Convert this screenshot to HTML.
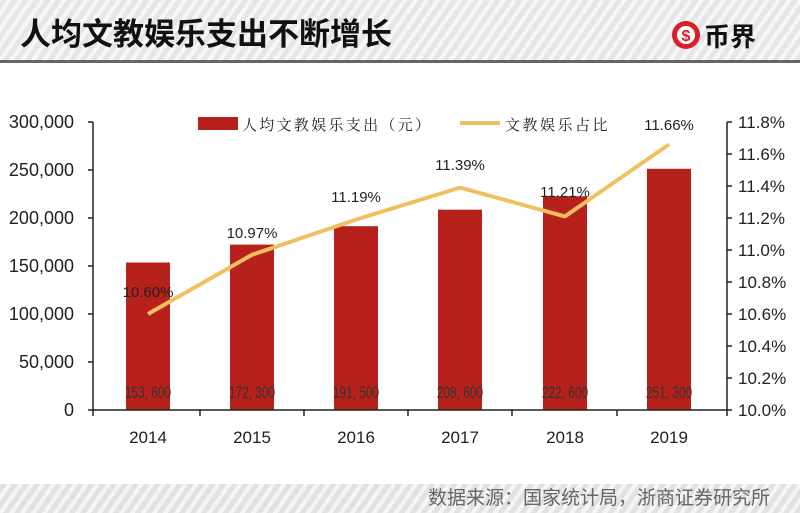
<!DOCTYPE html>
<html><head><meta charset="utf-8"><style>
body{margin:0;width:800px;height:513px;overflow:hidden;background:#fff;font-family:"Liberation Sans","Noto Sans CJK SC",sans-serif}
.hdr{position:absolute;left:0;top:0;width:800px;height:60px;background:repeating-linear-gradient(-55deg,#e6e6e6 0 5px,#f7f7f7 5px 9px)}
.line{position:absolute;left:0;top:60px;width:800px;height:3px;background:#666}
.ftr{position:absolute;left:0;top:484px;width:800px;height:29px;background:repeating-linear-gradient(-55deg,#e2e2e2 0 5px,#f5f5f5 5px 9px)}
</style></head><body>
<div class="hdr"></div><div class="line"></div><div class="ftr"></div>
<svg width="800" height="513" style="position:absolute;left:0;top:0" font-family="Liberation Sans, Noto Sans CJK SC, sans-serif">
<text x="20" y="45" font-size="31" font-weight="bold" fill="#111" font-family="Noto Sans CJK SC, sans-serif">人均文教娱乐支出不断增长</text>
<circle cx="686" cy="35" r="14" fill="#d8202a"/><circle cx="686" cy="35" r="9" fill="#fff"/>
<text x="686" y="41" font-size="16" font-weight="bold" fill="#d8202a" text-anchor="middle">$</text>
<text x="704" y="46" font-size="26" font-weight="bold" fill="#111" font-family="Noto Sans CJK SC, sans-serif">币界</text>
<g fill="#b7211c">
<rect x="126" y="262.5" width="44" height="147.5"/>
<rect x="230" y="244.6" width="44" height="165.4"/>
<rect x="334" y="226.2" width="44" height="183.8"/>
<rect x="438" y="209.7" width="44" height="200.3"/>
<rect x="543" y="196.3" width="44" height="213.7"/>
<rect x="647" y="168.8" width="44" height="241.2"/>
</g>
<g font-size="17" fill="#333" text-anchor="middle" transform="scale(0.7,1)">
<text x="211.4" y="398">153, 600</text><text x="360" y="398">172, 300</text><text x="508.6" y="398">191, 500</text>
<text x="657.1" y="398">208, 600</text><text x="807.1" y="398">222, 600</text><text x="955.7" y="398">251, 300</text>
</g>
<polyline points="148,314 252,254.8 356,219.6 460,187.6 565,216.4 669,144.4" fill="none" stroke="#f0c060" stroke-width="4" stroke-linejoin="round"/>
<g font-size="15" fill="#222" text-anchor="middle">
<text x="148" y="297">10.60%</text><text x="252" y="238">10.97%</text><text x="356" y="202">11.19%</text>
<text x="460" y="170">11.39%</text><text x="565" y="197">11.21%</text><text x="669" y="130">11.66%</text>
</g>
<g stroke="#222" stroke-width="1.5">
<line x1="93" y1="122" x2="93" y2="410"/><line x1="727" y1="122" x2="727" y2="410"/>
<line x1="93" y1="410" x2="727" y2="410"/>
<line x1="200" y1="410" x2="200" y2="416"/><line x1="304" y1="410" x2="304" y2="416"/><line x1="408" y1="410" x2="408" y2="416"/>
<line x1="512" y1="410" x2="512" y2="416"/><line x1="617" y1="410" x2="617" y2="416"/><line x1="93" y1="410" x2="93" y2="416"/><line x1="727" y1="410" x2="727" y2="416"/>
<line x1="88" y1="122" x2="93" y2="122"/><line x1="88" y1="170" x2="93" y2="170"/><line x1="88" y1="218" x2="93" y2="218"/><line x1="88" y1="266" x2="93" y2="266"/><line x1="88" y1="314" x2="93" y2="314"/><line x1="88" y1="362" x2="93" y2="362"/><line x1="88" y1="410" x2="93" y2="410"/>
<line x1="727" y1="122" x2="732" y2="122"/><line x1="727" y1="154" x2="732" y2="154"/><line x1="727" y1="186" x2="732" y2="186"/><line x1="727" y1="218" x2="732" y2="218"/><line x1="727" y1="250" x2="732" y2="250"/><line x1="727" y1="282" x2="732" y2="282"/><line x1="727" y1="314" x2="732" y2="314"/><line x1="727" y1="346" x2="732" y2="346"/><line x1="727" y1="378" x2="732" y2="378"/><line x1="727" y1="410" x2="732" y2="410"/>
</g>
<g font-size="18" fill="#222" text-anchor="end">
<text x="74" y="128">300,000</text><text x="74" y="176">250,000</text><text x="74" y="224">200,000</text><text x="74" y="272">150,000</text><text x="74" y="320">100,000</text><text x="74" y="368">50,000</text><text x="74" y="416">0</text>
</g>
<g font-size="17" fill="#222">
<text x="738" y="128">11.8%</text><text x="738" y="160">11.6%</text><text x="738" y="192">11.4%</text><text x="738" y="224">11.2%</text><text x="738" y="256">11.0%</text><text x="738" y="288">10.8%</text><text x="738" y="320">10.6%</text><text x="738" y="352">10.4%</text><text x="738" y="384">10.2%</text><text x="738" y="416">10.0%</text>
</g>
<g font-size="17" fill="#222" text-anchor="middle">
<text x="148" y="443">2014</text><text x="252" y="443">2015</text><text x="356" y="443">2016</text><text x="460" y="443">2017</text><text x="565" y="443">2018</text><text x="669" y="443">2019</text>
</g>
<rect x="198" y="117" width="40" height="13" fill="#b7211c"/>
<text x="242" y="130" font-size="15" fill="#222" letter-spacing="2.3" font-family="Noto Serif CJK SC, serif">人均文教娱乐支出（元）</text>
<line x1="460" y1="123" x2="500" y2="123" stroke="#f0c060" stroke-width="4"/>
<text x="505" y="130" font-size="15" fill="#222" letter-spacing="2.5" font-family="Noto Serif CJK SC, serif">文教娱乐占比</text>
<text x="770" y="504" font-size="19" fill="#666" text-anchor="end" font-family="Noto Sans CJK SC, sans-serif">数据来源：国家统计局，浙商证券研究所</text>
</svg>
</body></html>
